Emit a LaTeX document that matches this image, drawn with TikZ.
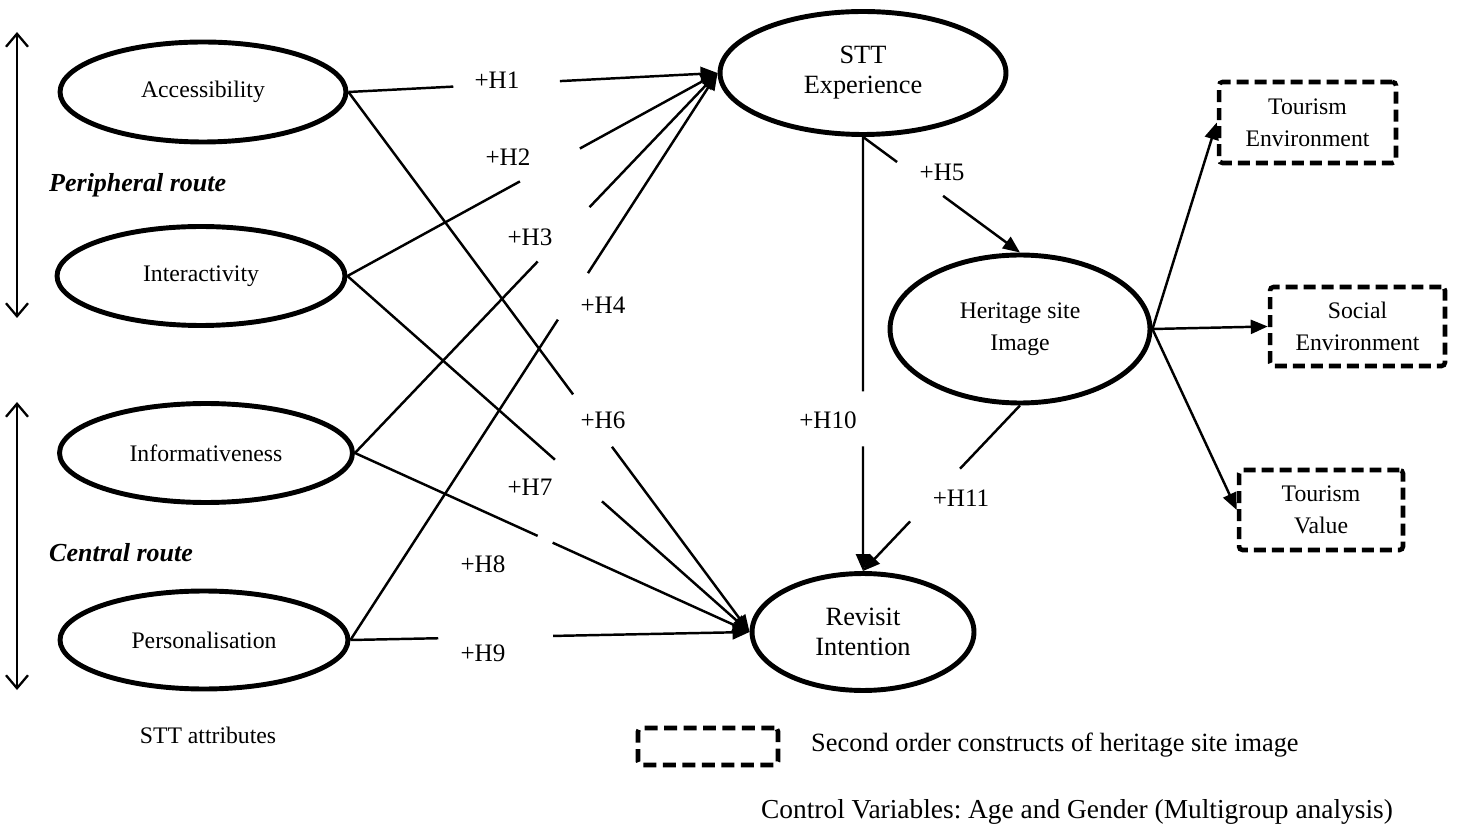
\documentclass[tikz,border=0pt]{standalone}
\usepackage{fontspec}
\setmainfont{Liberation Serif}
\usetikzlibrary{arrows.meta,shapes.geometric,calc}
\frenchspacing

\begin{document}
\begin{tikzpicture}[x=0.02cm,y=-0.02cm,
    latent/.style={ellipse, draw, line width=2.8pt, inner sep=0pt, align=center,
        font=\fontsize{13.5}{18}\selectfont},
    bigtext/.style={font=\fontsize{15}{17}\selectfont},
    facet/.style={draw, line width=2.6pt, dash pattern=on 0.24cm off 0.12cm,
        rounded corners=2pt, inner sep=0pt, align=center, font=\fontsize{13.5}{18}\selectfont},
    link/.style={line width=1.4pt},
    tip/.style={-{Triangle[length=0.34cm,width=0.28cm]}},
    hyp/.style={font=\fontsize{14.3}{16}\selectfont}]
    \useasboundingbox (0,0) rectangle (1462,830);
    % STT attributes
    \node[latent, minimum width=5.72cm, minimum height=2.0cm] (acc) at (203,92) {Accessibility};
    \node[latent, minimum width=5.76cm, minimum height=1.98cm] (int) at (201,276) {Interactivity};
    \node[latent, minimum width=5.86cm, minimum height=1.98cm] (inf) at (206,453) {Informativeness};
    \node[latent, minimum width=5.76cm, minimum height=1.96cm] (pers) at (204,640) {Personalisation};
    % routes
    \coordinate (ptop) at (17,32);
    \coordinate (pbot) at (17,318);
    \coordinate (ctop) at (17,402);
    \coordinate (cbot) at (17,690);
    \draw[line width=1.3pt, {Straight Barb[length=0.26cm,width=0.44cm]}-{Straight Barb[length=0.26cm,width=0.44cm]}] (ptop) -- (pbot);
    \draw[line width=1.3pt, {Straight Barb[length=0.26cm,width=0.44cm]}-{Straight Barb[length=0.26cm,width=0.44cm]}] (ctop) -- (cbot);
    \node[anchor=west, font=\fontsize{14.8}{17}\selectfont\bfseries\itshape] (periph) at (43,185) {Peripheral route};
    \node[anchor=west, font=\fontsize{14.8}{17}\selectfont\bfseries\itshape] (central) at (43,553) {Central route};
    \node[font=\fontsize{13.5}{16}\selectfont] (attr) at (208,735) {STT attributes};
    % outcomes
    \node[latent, bigtext, minimum width=5.72cm, minimum height=2.46cm] (stt) at (863,73) {STT\\Experience};
    \node[latent, minimum width=5.2cm, minimum height=2.96cm] (her) at (1020,329) {Heritage site\\Image};
    \node[latent, bigtext, minimum width=4.44cm, minimum height=2.34cm] (rev) at (863,632) {Revisit\\Intention};
    \node[facet, minimum width=3.54cm, minimum height=1.62cm] (tenv) at (1307.5,122.5) {Tourism\\Environment};
    \node[facet, minimum width=3.5cm, minimum height=1.58cm] (senv) at (1357.5,326.5) {Social\\Environment};
    \node[facet, minimum width=3.28cm, minimum height=1.6cm] (tval) at (1321,510) {Tourism\\Value};
    % H1-H4
    \draw[link] (acc.east) -- ($(acc.east)!0.284!(stt.west)$);
    \draw[link,tip] ($(acc.east)!0.573!(stt.west)$) -- (stt.west);
    \draw[link] (int.east) -- ($(int.east)!0.466!(stt.west)$);
    \draw[link,tip] ($(int.east)!0.628!(stt.west)$) -- (stt.west);
    \draw[link] (inf.east) -- ($(inf.east)!0.504!(stt.west)$);
    \draw[link,tip] ($(inf.east)!0.647!(stt.west)$) -- (stt.west);
    \draw[link] (pers.east) -- ($(pers.east)!0.565!(stt.west)$);
    \draw[link,tip] ($(pers.east)!0.647!(stt.west)$) -- (stt.west);
    % H6-H9
    \draw[link] (acc.east) -- ($(acc.east)!0.56!(rev.west)$);
    \draw[link,tip] ($(acc.east)!0.657!(rev.west)$) -- (rev.west);
    \draw[link] (int.east) -- ($(int.east)!0.516!(rev.west)$);
    \draw[link,tip] ($(int.east)!0.633!(rev.west)$) -- (rev.west);
    \draw[link] (inf.east) -- ($(inf.east)!0.463!(rev.west)$);
    \draw[link,tip] ($(inf.east)!0.501!(rev.west)$) -- (rev.west);
    \draw[link] (pers.east) -- ($(pers.east)!0.22!(rev.west)$);
    \draw[link,tip] ($(pers.east)!0.508!(rev.west)$) -- (rev.west);
    % H5, H10, H11
    \draw[link] (stt.south) -- ($(stt.south)!0.217!(her.north)$);
    \draw[link,tip] ($(stt.south)!0.51!(her.north)$) -- (her.north);
    \draw[link] (stt.south) -- ($(stt.south)!0.586!(rev.north)$);
    \draw[link,tip] ($(stt.south)!0.713!(rev.north)$) -- (rev.north);
    \draw[link] (her.south) -- ($(her.south)!0.382!(rev.north)$);
    \draw[link,tip] ($(her.south)!0.70!(rev.north)$) -- (rev.north);
    % second order
    \draw[link,tip] (her.east) -- (tenv.west);
    \draw[link,tip] (her.east) -- (senv.west);
    \draw[link,tip] (her.east) -- (tval.west);
    % labels
    \node[hyp] (h1) at (497,80) {+H1};
    \node[hyp] (h2) at (508,157) {+H2};
    \node[hyp] (h3) at (530,237) {+H3};
    \node[hyp] (h4) at (603,305) {+H4};
    \node[hyp] (h5) at (942,172) {+H5};
    \node[hyp] (h6) at (603,420) {+H6};
    \node[hyp] (h7) at (530,487) {+H7};
    \node[hyp] (h8) at (483,564) {+H8};
    \node[hyp] (h9) at (483,653) {+H9};
    \node[hyp] (h10) at (828,420) {+H10};
    \node[hyp] (h11) at (961,498) {+H11};
    % legend
    \node[facet, minimum width=2.8cm, minimum height=0.74cm, dash pattern=on 0.26cm off 0.13cm] (key) at (708,746.5) {};
    \node[anchor=west, bigtext] (keytext) at (805,745) {Second order constructs of heritage site image};
    \node[font=\fontsize{15.6}{17}\selectfont] (ctrl) at (1077,812) {Control Variables: Age and Gender (Multigroup analysis)};
\end{tikzpicture}
\end{document}
